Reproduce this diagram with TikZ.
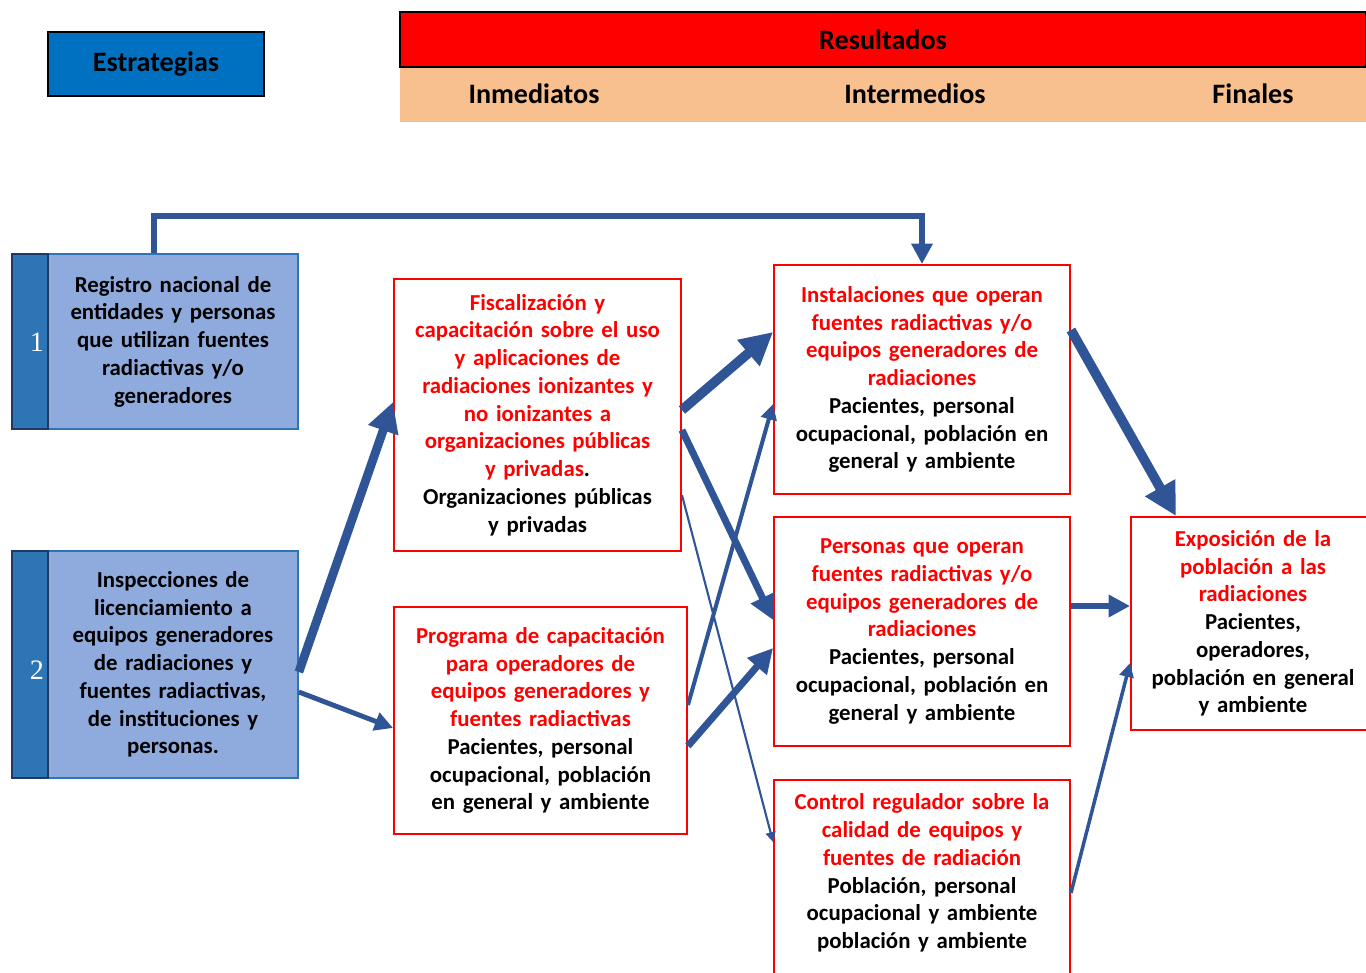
\documentclass[tikz,border=0pt]{standalone}
\usepackage{fontspec}
\setmainfont{Carlito}
\newfontfamily\numfont{Liberation Serif}
\usetikzlibrary{arrows.meta,positioning,calc}
\definecolor{arblue}{HTML}{2F5597}
\definecolor{estblue}{HTML}{0070C0}
\definecolor{stfill}{HTML}{8FAADC}
\definecolor{stedge}{HTML}{2E75B6}
\definecolor{stripfill}{HTML}{2E75B6}
\definecolor{stripedge}{HTML}{203864}
\definecolor{peach}{HTML}{F8BF8F}

\begin{document}
\begin{tikzpicture}[x=0.02cm,y=-0.02cm,
    hdr/.style={font=\bfseries\fontsize{16}{19}\selectfont,inner sep=0pt},
    stbox/.style={draw=stedge,fill=stfill,line width=1pt,minimum width=5cm,minimum height=#1,inner sep=0pt,text width=4.8cm,align=center,font=\bfseries\fontsize{13}{15.8}\selectfont},
    strip/.style={draw=stripedge,fill=stripfill,line width=1pt,minimum width=0.72cm,minimum height=#1,inner sep=0pt},
    numtxt/.style={text=white,font=\numfont\fontsize{16}{18}\selectfont,inner sep=0pt},
    resbox/.style={draw=red,line width=1.1pt,fill=white,inner sep=0pt,align=center,font=\bfseries\fontsize{13}{15.8}\selectfont},
    ar/.style={draw=arblue,-{Triangle[length=2pt 3,width=2pt 3]}}
]
\clip (0,0) rectangle (1366,973);
% encabezados
\node[draw=black,line width=1pt,fill=estblue,minimum width=4.32cm,minimum height=1.28cm,hdr] (est) at (156,64) {Estrategias};
\node[fill=peach,minimum width=19.32cm,minimum height=1.1cm,inner sep=0pt] (niv) at (883,94.5) {};
\node[draw=black,line width=1pt,fill=red,minimum width=19.32cm,minimum height=1.1cm,hdr] (res) at (883,39.5) {Resultados};
\node[hdr] (inm) at (534,94) {Inmediatos};
\node[hdr] (int) at (915,94) {Intermedios};
\node[hdr] (fin) at (1253,94) {Finales};

% estrategias
\node[stbox=3.5cm] (b1) at (173,341.5) {Registro nacional de\\ entidades y personas\\ que utilizan fuentes\\ radiactivas y/o\\ generadores};
\node[strip=3.5cm] (s1) at (30,341.5) {};
\node[numtxt] (n1) at (37,342) {1};
\node[stbox=4.54cm] (b2) at (173,664.5) {Inspecciones de\\ licenciamiento a\\ equipos generadores\\ de radiaciones y\\ fuentes radiactivas,\\ de instituciones y\\ personas.};
\node[strip=4.54cm] (s2) at (30,664.5) {};
\node[numtxt] (n2) at (37,670) {2};

% resultados inmediatos
\node[resbox,minimum width=5.74cm,minimum height=5.44cm,text width=5.5cm] (fis) at (537.5,415) {\color{red}Fiscalización y\\ capacitación sobre el uso\\ y aplicaciones de\\ radiaciones ionizantes y\\ no ionizantes a\\ organizaciones públicas\\ y privadas\color{black}.\\ Organizaciones públicas\\ y privadas};
\node[resbox,minimum width=5.86cm,minimum height=4.54cm,text width=5.6cm] (prog) at (540.5,720.5) {\color{red}Programa de capacitación\\ para operadores de\\ equipos generadores y\\ fuentes radiactivas\\ \color{black}Pacientes, personal\\ ocupacional, población\\ en general y ambiente};

% resultados intermedios
\node[resbox,minimum width=5.92cm,minimum height=4.58cm,text width=5.7cm] (inst) at (922,379.5) {\color{red}Instalaciones que operan\\ fuentes radiactivas y/o\\ equipos generadores de\\ radiaciones\\ \color{black}Pacientes, personal\\ ocupacional, población en\\ general y ambiente};
\node[resbox,minimum width=5.92cm,minimum height=4.58cm,text width=5.7cm] (pers) at (922,631.5) {\color{red}Personas que operan\\ fuentes radiactivas y/o\\ equipos generadores de\\ radiaciones\\ \color{black}Pacientes, personal\\ ocupacional, población en\\ general y ambiente};
\node[resbox,minimum width=5.92cm,minimum height=4.3cm,anchor=north] (ctl) at (922,779) {};
\node[align=center,inner sep=0pt,text width=5.7cm,font=\bfseries\fontsize{13}{15.8}\selectfont] (ctlt) at (922,873) {\color{red}Control regulador sobre la\\ calidad de equipos y\\ fuentes de radiación\\ \color{black}Población, personal\\ ocupacional y ambiente\\ población y ambiente};

% resultados finales
\node[resbox,minimum width=4.88cm,minimum height=4.26cm,text width=4.7cm] (expo) at (1253,623.5) {\color{red}Exposición de la\\ población a las\\ radiaciones\\ \color{black}Pacientes,\\ operadores,\\ población en general\\ y ambiente};

% conectores
\draw[ar,line width=3.2pt] ([xshift=-0.38cm]b1.north) -- ++(0,-37) -| (inst.north);
\draw[ar,line width=5pt] ([yshift=-0.15cm]b2.east) -- ([yshift=0.26cm]fis.west);
\draw[ar,line width=2.8pt] ([yshift=-0.55cm]b2.east) -- ([yshift=-0.15cm]prog.west);
\draw[ar,line width=5.5pt] ([yshift=0.1cm]fis.east) -- ([yshift=0.95cm]inst.west);
\draw[ar,line width=4pt] ([yshift=-0.3cm]fis.east) -- ([yshift=0.23cm]pers.west);
\draw[ar,line width=1.2pt] ([yshift=-1.6cm]fis.east) -- ([yshift=-1.26cm]ctl.north west);
\draw[ar,line width=2.3pt] ([yshift=0.31cm]prog.east) -- ([yshift=-0.49cm]inst.west);
\draw[ar,line width=4pt] ([yshift=-0.51cm]prog.east) -- ([yshift=-0.33cm]pers.west);
\draw[ar,line width=5.5pt] ([yshift=0.99cm]inst.east) -- ([xshift=0.92cm]expo.north west);
\draw[ar,line width=3.4pt] ([yshift=0.51cm]pers.east) -- ([yshift=0.51cm]pers.east -| expo.west);
\draw[ar,line width=2pt] ([yshift=-2.28cm]ctl.north east) -- ([yshift=-0.79cm]expo.west);
\end{tikzpicture}
\end{document}
